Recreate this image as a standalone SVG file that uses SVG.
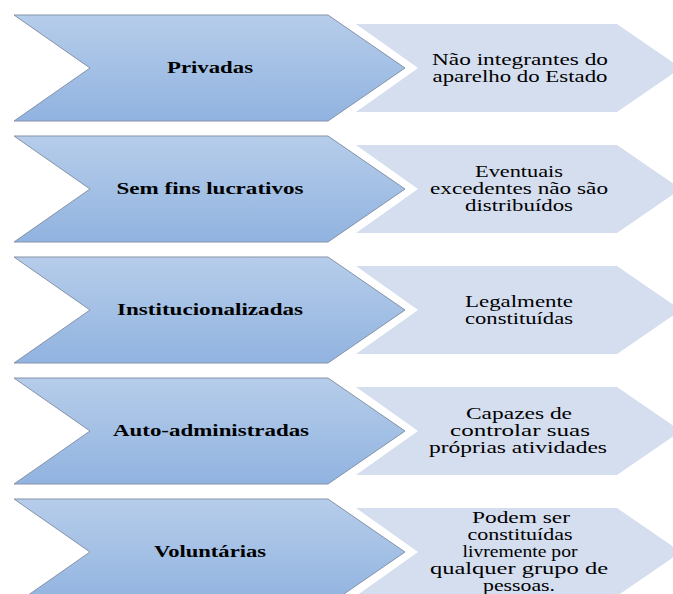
<svg xmlns="http://www.w3.org/2000/svg" width="673" height="594" viewBox="0 0 673 594">
<defs>
<linearGradient id="g" x1="0" y1="0" x2="0" y2="1">
<stop offset="0" stop-color="#b6cdea"/>
<stop offset="1" stop-color="#91b3e0"/>
</linearGradient>
<polygon id="dark" points="14,15 328,15 405,68 328,121 14,121 90,68"/>
<polygon id="light" points="356,24 617,24 681,68 617,112 356,112 418,68"/>
</defs>
<style>
.d{fill:url(#g);stroke:#8593aa;stroke-width:1}
.l{fill:#d5deef}
</style>
<rect width="673" height="594" fill="#fff"/>
<g id="connectors"/>
<g id="row1">
<use href="#light" class="l"/>
<use href="#dark" class="d"/>
<text style="font-family:'Liberation Serif',serif;font-size:16px;font-weight:bold" text-anchor="middle" x="210" y="73" textLength="86" lengthAdjust="spacingAndGlyphs">Privadas</text>
<text style="font-family:'Liberation Serif',serif;font-size:16px" text-anchor="middle" x="520" y="64.5" textLength="176" lengthAdjust="spacingAndGlyphs">Não integrantes  do</text>
<text style="font-family:'Liberation Serif',serif;font-size:16px" text-anchor="middle" x="520" y="81.5" textLength="175" lengthAdjust="spacingAndGlyphs">aparelho  do Estado</text>
</g>
<g id="row2" transform="translate(0,121)">
<use href="#light" class="l"/>
<use href="#dark" class="d"/>
<text style="font-family:'Liberation Serif',serif;font-size:16px;font-weight:bold" text-anchor="middle" x="210" y="73" textLength="187" lengthAdjust="spacingAndGlyphs">Sem fins lucrativos</text>
<text style="font-family:'Liberation Serif',serif;font-size:16px" text-anchor="middle" x="519" y="56" textLength="88" lengthAdjust="spacingAndGlyphs">Eventuais</text>
<text style="font-family:'Liberation Serif',serif;font-size:16px" text-anchor="middle" x="519" y="73" textLength="178" lengthAdjust="spacingAndGlyphs">excedentes não são</text>
<text style="font-family:'Liberation Serif',serif;font-size:16px" text-anchor="middle" x="519" y="90" textLength="108" lengthAdjust="spacingAndGlyphs">distribuídos</text>
</g>
<g id="row3" transform="translate(0,242)">
<use href="#light" class="l"/>
<use href="#dark" class="d"/>
<text style="font-family:'Liberation Serif',serif;font-size:16px;font-weight:bold" text-anchor="middle" x="210" y="73" textLength="186" lengthAdjust="spacingAndGlyphs">Institucionalizadas</text>
<text style="font-family:'Liberation Serif',serif;font-size:16px" text-anchor="middle" x="519" y="64.5" textLength="108" lengthAdjust="spacingAndGlyphs">Legalmente</text>
<text style="font-family:'Liberation Serif',serif;font-size:16px" text-anchor="middle" x="519" y="81.5" textLength="108" lengthAdjust="spacingAndGlyphs">constituídas</text>
</g>
<g id="row4" transform="translate(0,363)">
<use href="#light" class="l"/>
<use href="#dark" class="d"/>
<text style="font-family:'Liberation Serif',serif;font-size:16px;font-weight:bold" text-anchor="middle" x="211" y="73" textLength="196" lengthAdjust="spacingAndGlyphs">Auto-administradas</text>
<text style="font-family:'Liberation Serif',serif;font-size:16px" text-anchor="middle" x="519" y="56" textLength="106" lengthAdjust="spacingAndGlyphs">Capazes  de</text>
<text style="font-family:'Liberation Serif',serif;font-size:16px" text-anchor="middle" x="520" y="73" textLength="140" lengthAdjust="spacingAndGlyphs">controlar  suas</text>
<text style="font-family:'Liberation Serif',serif;font-size:16px" text-anchor="middle" x="518" y="90" textLength="178" lengthAdjust="spacingAndGlyphs">próprias atividades</text>
</g>
<g id="row5" transform="translate(0,484)">
<use href="#light" class="l"/>
<use href="#dark" class="d"/>
<text style="font-family:'Liberation Serif',serif;font-size:16px;font-weight:bold" text-anchor="middle" x="210" y="73" textLength="112" lengthAdjust="spacingAndGlyphs">Voluntárias</text>
<text style="font-family:'Liberation Serif',serif;font-size:16px" text-anchor="middle" x="521" y="39" textLength="98" lengthAdjust="spacingAndGlyphs">Podem ser</text>
<text style="font-family:'Liberation Serif',serif;font-size:16px" text-anchor="middle" x="520" y="56" textLength="105" lengthAdjust="spacingAndGlyphs">constituídas</text>
<text style="font-family:'Liberation Serif',serif;font-size:16px" text-anchor="middle" x="520" y="73" textLength="115" lengthAdjust="spacingAndGlyphs">livremente por</text>
<text style="font-family:'Liberation Serif',serif;font-size:16px" text-anchor="middle" x="519" y="90" textLength="178" lengthAdjust="spacingAndGlyphs">qualquer grupo  de</text>
<text style="font-family:'Liberation Serif',serif;font-size:16px" text-anchor="middle" x="519" y="107" textLength="72" lengthAdjust="spacingAndGlyphs">pessoas.</text>
</g>
</svg>
